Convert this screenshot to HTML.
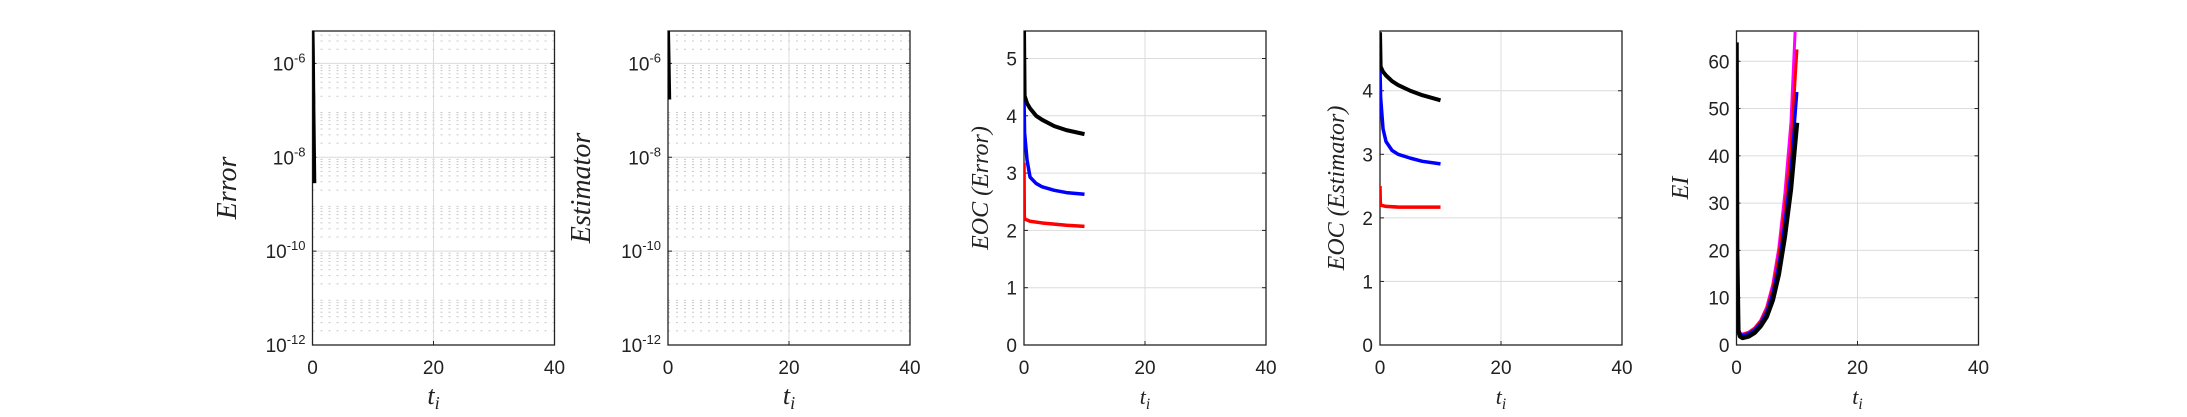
<!DOCTYPE html>
<html><head><meta charset="utf-8"><style>
html,body{margin:0;padding:0;background:#fff;}
svg{display:block;}
text{font-family:"Liberation Sans",sans-serif;}
.lab{font-family:"Liberation Serif",serif;font-style:italic;}
</style></head><body>
<svg id="chart" width="2187" height="417" viewBox="0 0 2187 417" xmlns="http://www.w3.org/2000/svg"></svg>
<script>
// ---- data ----
const xTicks = [0, 20, 40];
const p1Black_x = [0, 0.05, 0.15, 0.3];
const p1Black_y = [5e-6, 2e-6, 1e-7, 2.8e-9];
const p1Blue_x = [0, 0.1, 0.2];
const p1Blue_y = [5e-6, 1e-6, 1.4e-7];
const p2Black_x = [0, 0.1, 0.2];
const p2Black_y = [5e-6, 1e-6, 1.7e-7];
const logTicks = [-12, -10, -8, -6];

const p3_x = [0, 0.1, 0.5, 1, 2, 3, 5, 7, 10];
const p3Black = [5.5, 4.35, 4.22, 4.13, 4.0, 3.93, 3.82, 3.75, 3.68];
const p3Blue = [4.3, 3.7, 3.23, 2.93, 2.82, 2.76, 2.7, 2.66, 2.63];
const p3Red_x = [0, 0.05, 0.1, 1, 3, 5, 7, 10];
const p3Red = [3.18, 2.25, 2.2, 2.16, 2.13, 2.11, 2.09, 2.07];
const p3Ticks = [0, 1, 2, 3, 4, 5];

const p4_x = [0, 0.1, 0.5, 1, 2, 3, 5, 7, 10];
const p4Black = [4.92, 4.38, 4.3, 4.24, 4.15, 4.09, 4.0, 3.93, 3.85];
const p4Blue = [4.35, 3.9, 3.4, 3.2, 3.06, 3.0, 2.94, 2.89, 2.85];
const p4Red_x = [0, 0.05, 0.1, 1, 3, 5, 7, 10];
const p4Red = [2.5, 2.25, 2.2, 2.18, 2.17, 2.17, 2.17, 2.17];
const p4Ticks = [0, 1, 2, 3, 4];

const p5_x = [0, 0.1, 0.3, 0.6, 1, 2, 3, 4, 5, 6, 7, 8, 9, 10];
const p5Black = [64, 20, 3, 1.8, 1.5, 1.8, 2.6, 4, 6, 9.5, 15, 23, 33, 47];
const p5Blue = [45, 15, 3.2, 2.2, 2.0, 2.4, 3.2, 4.6, 7, 11, 17, 26, 37, 53.5];
const p5Red = [28, 10, 3.4, 2.4, 2.2, 2.6, 3.5, 5, 7.6, 12, 19, 29, 42, 62.5];
const p5Mag = [20, 8, 3.5, 2.5, 2.3, 2.7, 3.6, 5.2, 8, 12.8, 20.5, 32, 47, 75];
const p5Ticks = [0, 10, 20, 30, 40, 50, 60];

// ---- drawing ----
const NS = "http://www.w3.org/2000/svg";
const svg = document.getElementById("chart");
function mk(tag, attrs, parent){const e=document.createElementNS(NS,tag);for(const k in attrs)e.setAttribute(k,attrs[k]);(parent||svg).appendChild(e);return e;}

const TOP=31, BOT=345, W=242;
function panel(left, ymin, ymax, isLog, name){
  const g=mk("g",{});
  
  
  const cp=mk("clipPath",{id:"c"+name},g); mk("rect",{x:left,y:TOP,width:W,height:BOT-TOP},cp);
  const sx=v=>left+v/40*W;
  const sy=v=>{const t=isLog?Math.log10(v):v;return BOT-(t-ymin)/(ymax-ymin)*(BOT-TOP);};
  return {g,sx,sy,left,clip:"url(#c"+name+")"};
}
function frame(P, yTicks, yLabelFn, isLog){
  const {g,sx,left}=P;
  if(isLog){
    for(let d=-12; d<-5; d++) for(let m=2;m<=9;m++){
      const v=m*Math.pow(10,d); const y=P.sy(v); if(y<TOP) continue;
      const l=mk("line",{x1:left,x2:left+W,y1:y,y2:y,stroke:"#c8c8c8","stroke-width":1,"stroke-dasharray":"2,6"},g);
      
      
    }
  }
  yTicks.forEach(t=>{
    const y=isLog?P.sy(Math.pow(10,t)):P.sy(t);
    const l=mk("line",{x1:left,x2:left+W,y1:y,y2:y,stroke:"#dcdcdc","stroke-width":1},g);
    
    
    mk("line",{x1:left,x2:left+4,y1:y,y2:y,stroke:"#222","stroke-width":1},g);
    mk("line",{x1:left+W-4,x2:left+W,y1:y,y2:y,stroke:"#222","stroke-width":1},g);
    const tx=mk("text",{x:left-7,y:y+7,"font-size":19,"text-anchor":"end",fill:"#222"},g);
    
    
    if(isLog){tx.textContent="10";const s=mk("tspan",{dy:-8,"font-size":13},tx);s.textContent=String(t);}
    else tx.textContent=String(t);
  });
  xTicks.forEach(t=>{
    const x=sx(t);
    if(t>0&&t<40){const l=mk("line",{x1:x,x2:x,y1:TOP,y2:BOT,stroke:"#dcdcdc","stroke-width":1},g);
      
      }
    mk("line",{x1:x,x2:x,y1:BOT,y2:BOT-4,stroke:"#222","stroke-width":1},g);
    const tx=mk("text",{x:x,y:374,"font-size":19,"text-anchor":"middle",fill:"#222"},g);
    
    
    tx.textContent=String(t);
  });
  const r=mk("rect",{x:left,y:TOP,width:W,height:BOT-TOP,fill:"none",stroke:"#222","stroke-width":1.3},g);
  
  
}
function line(P, xs, ys, color, w, name){
  const d=xs.map((x,i)=>(i?"L":"M")+P.sx(x).toFixed(2)+","+P.sy(ys[i]).toFixed(2)).join("");
  const p=mk("path",{d,fill:"none",stroke:color,"stroke-width":w,"stroke-linejoin":"round","clip-path":P.clip},P.g);
  
  
}
function labels(P, ylab, lx, ysize, xsize){
  const t=mk("text",{x:lx,y:188,"font-size":ysize,"text-anchor":"middle",class:"lab",fill:"#222",transform:`rotate(-90 ${lx} 188)`},P.g);
  
  
  t.textContent=ylab;
  const xl=mk("text",{x:P.sx(20),y:404,"font-size":xsize,"text-anchor":"middle",class:"lab",fill:"#222"},P.g);
  
  
  xl.textContent="t";
  const s=mk("tspan",{dy:5,"font-size":xsize*0.7},xl); s.textContent="i";
}
const lefts=[312.5,668,1024,1380,1736.5];

P=panel(lefts[0],-12,-5.31,true,"error-panel");
frame(P,logTicks,null,true);
line(P,p1Blue_x,p1Blue_y,"#0000ff",3,"error-series-blue");
line(P,p1Black_x,p1Black_y,"#000",4,"error-series-black");
labels(P,"Error",236,28,26);

P=panel(lefts[1],-12,-5.31,true,"estimator-panel");
frame(P,logTicks,null,true);
line(P,p2Black_x,p2Black_y,"#000",4,"estimator-series-black");
labels(P,"Estimator",590,28,26);

P=panel(lefts[2],0,5.48,false,"eoc-error-panel");
frame(P,p3Ticks,null,false);
line(P,p3Red_x,p3Red,"#ff0000",3.5,"eoc-error-red");
line(P,p3_x,p3Blue,"#0000ff",3.5,"eoc-error-blue");
line(P,p3_x,p3Black,"#000",4,"eoc-error-black");
labels(P,"EOC (Error)",988,24,22);

P=panel(lefts[3],0,4.94,false,"eoc-estimator-panel");
frame(P,p4Ticks,null,false);
line(P,p4Red_x,p4Red,"#ff0000",3.5,"eoc-estimator-red");
line(P,p4_x,p4Blue,"#0000ff",3.5,"eoc-estimator-blue");
line(P,p4_x,p4Black,"#000",4,"eoc-estimator-black");
labels(P,"EOC (Estimator)",1344,24,22);

P=panel(lefts[4],0,66.4,false,"ei-panel");
frame(P,p5Ticks,null,false);
line(P,p5_x,p5Mag,"#ff00ff",3,"ei-magenta");
line(P,p5_x,p5Red,"#ff0000",3,"ei-red");
line(P,p5_x,p5Blue,"#0000ff",3,"ei-blue");
line(P,p5_x,p5Black,"#000",4.5,"ei-black");
labels(P,"EI",1688,24,22);
</script>
</body></html>
